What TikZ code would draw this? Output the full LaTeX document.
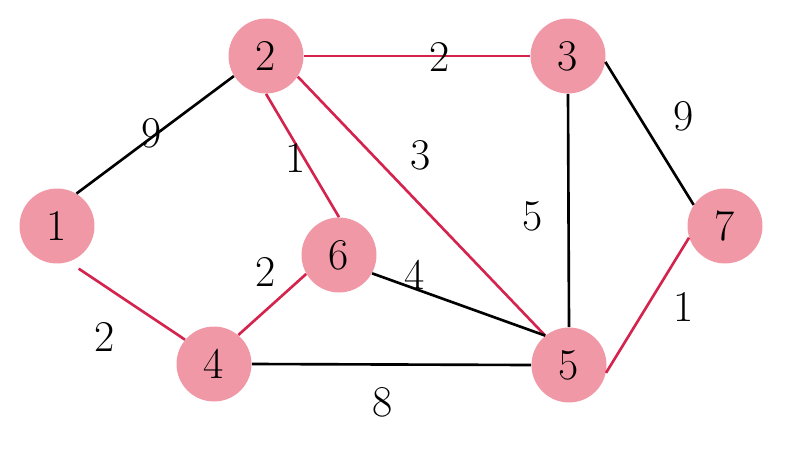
\documentclass[tikz,border=0pt]{standalone}
\definecolor{knot}{RGB}{241,152,166}
\definecolor{baum}{RGB}{212,36,78}
\begin{document}
\begin{tikzpicture}[x=0.02cm,y=-0.02cm,
		knoten/.style={circle,fill=knot,minimum size=1.5cm,inner sep=0pt,font=\fontsize{25}{30}\selectfont},
		gewicht/.style={font=\fontsize{25}{30}\selectfont},
		kante/.style={line width=1.5pt,black},
		mst/.style={line width=1.5pt,baum}]
		\useasboundingbox (0,0) rectangle (800,453);
		\node[knoten] (n1) at (57,226) {1};
		\node[knoten] (n2) at (266,56) {2};
		\node[knoten] (n3) at (568,56) {3};
		\node[knoten] (n4) at (214,364) {4};
		\node[knoten] (n5) at (569,365) {5};
		\node[knoten] (n6) at (339,255) {6};
		\node[knoten] (n7) at (725,226) {7};
		\draw[kante] (n1.59) -- (n2.212);
		\draw[mst] (n2) -- (n3);
		\draw[mst] (n2.south) -- (n6.north);
		\draw[mst] (n2.-33) -- (n5.129);
		\draw[kante] (n3.south) -- (n5.north);
		\draw[kante] (n3.-9) -- (n7.146);
		\draw[mst] (n7.198) -- (n5.-12);
		\draw[mst,shorten <=0.24cm] (n1.-72) -- (n4.140);
		\draw[mst] (n4.50) -- (n6.210);
		\draw[kante] (n6.-29) -- (n5.129);
		\draw[kante] (n4.east) -- (n5.west);
		\node[gewicht] (w12) at (152,133) {9};
		\node[gewicht] (w23) at (440,57) {2};
		\node[gewicht] (w26) at (296,158) {1};
		\node[gewicht] (w25) at (421,155) {3};
		\node[gewicht] (w35) at (533,216) {5};
		\node[gewicht] (w37) at (684,116) {9};
		\node[gewicht] (w75) at (684,307) {1};
		\node[gewicht] (w14) at (105,337) {2};
		\node[gewicht] (w46) at (266,272) {2};
		\node[gewicht] (w65) at (415,275) {4};
		\node[gewicht] (w45) at (383,402) {8};
\end{tikzpicture}
\end{document}
